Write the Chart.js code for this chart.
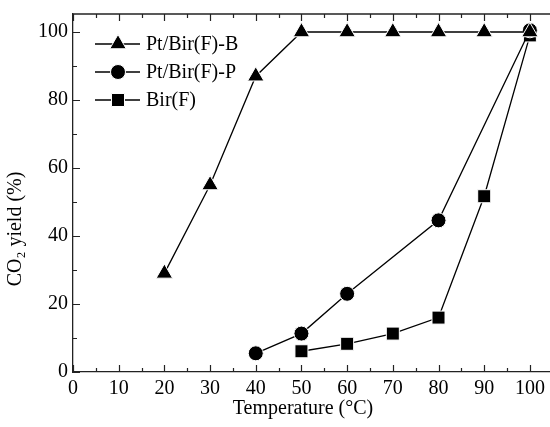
<!DOCTYPE html>
<html lang="en">
<head>
    <meta charset="UTF-8" />
    <title>CO2 yield vs temperature</title>
    <script src="https://cdn.jsdelivr.net/npm/chart.js"></script>
    <style>
        html, body { margin: 0; padding: 0; background: #fff; overflow: hidden; }
        #wrap { width: 550px; height: 427px; }
    </style>
</head>
<body>
    <div id="wrap"><canvas id="grafico"></canvas></div>

    <script>
        // data
        const temperaturas = [20, 30, 40, 50, 60, 70, 80, 90, 100];
        const ptBirB = [29, 55, 87, 100, 100, 100, 100, 100, 100];
        const ptBirP = [null, null, 5.5, 11.3, 23, null, 44.6, null, 100.5];
        const birF = [null, null, null, 6.1, 8.3, 11.3, 16, 51.7, 99];
        const nomes = ['Pt/Bir(F)-B', 'Pt/Bir(F)-P', 'Bir(F)'];
        const xTicks = [0, 10, 20, 30, 40, 50, 60, 70, 80, 90, 100];
        const yTicks = [0, 20, 40, 60, 80, 100];

        const FONTE = '"Liberation Serif", "Times New Roman", serif';

        function pontos(valores) {
            return temperaturas.map((t, i) => ({ x: t, y: valores[i] }));
        }

        function serie(label, valores, estilo, raio) {
            return {
                label: label,
                data: pontos(valores),
                borderColor: '#000',
                borderWidth: 1.3,
                backgroundColor: '#000',
                pointStyle: estilo,
                pointRadius: raio,
                pointHoverRadius: raio,
                pointBackgroundColor: '#000',
                pointBorderColor: '#fff',
                pointBorderWidth: 1,
                spanGaps: true,
                tension: 0,
                fill: false
            };
        }

        // inward ticks + top frame line + axis titles
        const moldura = {
            id: 'moldura',
            afterDraw(chart) {
                const ctx = chart.ctx;
                const a = chart.chartArea;
                const sx = chart.scales.x;
                const sy = chart.scales.y;
                ctx.save();
                ctx.strokeStyle = '#222';
                ctx.lineWidth = 1.3;
                ctx.beginPath();
                ctx.moveTo(a.left, a.top);
                ctx.lineTo(a.right, a.top);
                ctx.stroke();
                ctx.lineWidth = 1.2;
                ctx.beginPath();
                for (let v = 0; v <= sx.max; v += 5) {
                    const px = Math.round(sx.getPixelForValue(v)) + 0.5;
                    const len = v % 10 === 0 ? 7 : 4;
                    ctx.moveTo(px, a.bottom);
                    ctx.lineTo(px, a.bottom - len);
                    ctx.moveTo(px, a.top);
                    ctx.lineTo(px, a.top + len);
                }
                for (let v = 0; v <= sy.max; v += 10) {
                    const py = Math.round(sy.getPixelForValue(v)) + 0.5;
                    const len = v % 20 === 0 ? 7 : 4;
                    ctx.moveTo(a.left, py);
                    ctx.lineTo(a.left + len, py);
                }
                ctx.stroke();

                ctx.fillStyle = '#000';
                ctx.font = '20px ' + FONTE;
                ctx.textAlign = 'center';
                ctx.textBaseline = 'middle';
                ctx.fillText('Temperature (°C)', 303, 409);
                ctx.translate(16, 229);
                ctx.rotate(-Math.PI / 2);
                ctx.fillText('CO₂ yield (%)', 0, 0);
                ctx.restore();
            }
        };

        // legend with line + marker, inside the plot
        const legenda = {
            id: 'legenda',
            afterDraw(chart) {
                const ctx = chart.ctx;
                const linhas = [44, 72, 100];
                ctx.save();
                chart.data.datasets.forEach((ds, i) => {
                    const y = linhas[i];
                    ctx.strokeStyle = '#000';
                    ctx.lineWidth = 1.3;
                    ctx.beginPath();
                    ctx.moveTo(95, y);
                    ctx.lineTo(140, y);
                    ctx.stroke();
                    ctx.fillStyle = '#000';
                    ctx.strokeStyle = '#fff';
                    ctx.lineWidth = 1;
                    Chart.helpers.drawPoint(ctx, {
                        pointStyle: ds.pointStyle,
                        radius: ds.pointRadius,
                        borderWidth: 1,
                        rotation: 0
                    }, 118, y);
                    ctx.fillStyle = '#000';
                    ctx.font = '20px ' + FONTE;
                    ctx.textAlign = 'left';
                    ctx.textBaseline = 'middle';
                    ctx.fillText(ds.label, 146, y + 1);
                });
                ctx.restore();
            }
        };

        new Chart(document.getElementById('grafico'), {
            type: 'line',
            data: {
                datasets: [
                    serie(nomes[0], ptBirB, 'triangle', 9.5),
                    serie(nomes[1], ptBirP, 'circle', 7.5),
                    serie(nomes[2], birF, 'rect', 9.2)
                ]
            },
            options: {
                responsive: true,
                maintainAspectRatio: false,
                animation: false,
                layout: { autoPadding: false, padding: { top: 14, right: 0, left: 0, bottom: 0 } },
                plugins: {
                    legend: { display: false },
                    tooltip: { enabled: false }
                },
                scales: {
                    x: {
                        type: 'linear',
                        min: 0,
                        max: 104.4,
                        afterFit(s) {
                            s.height = 55;
                            s.paddingLeft = 0;
                            s.paddingRight = 0;
                        },
                        afterBuildTicks(s) { s.ticks = xTicks.map(v => ({ value: v })); },
                        grid: { display: true, drawOnChartArea: false, drawTicks: false },
                        border: { display: true, color: '#222', width: 1.3 },
                        ticks: {
                            color: '#000',
                            padding: 5,
                            maxRotation: 0,
                            font: { family: FONTE, size: 20 }
                        }
                    },
                    y: {
                        min: 0,
                        max: 105.3,
                        afterFit(s) {
                            s.width = 73;
                            s.paddingTop = 0;
                            s.paddingBottom = 0;
                        },
                        afterBuildTicks(s) { s.ticks = yTicks.map(v => ({ value: v })); },
                        grid: { display: true, drawOnChartArea: false, drawTicks: false },
                        border: { display: true, color: '#222', width: 1.3 },
                        ticks: {
                            color: '#000',
                            padding: 5,
                            font: { family: FONTE, size: 20 }
                        }
                    }
                }
            },
            plugins: [moldura, legenda]
        });
    </script>
</body>
</html>
